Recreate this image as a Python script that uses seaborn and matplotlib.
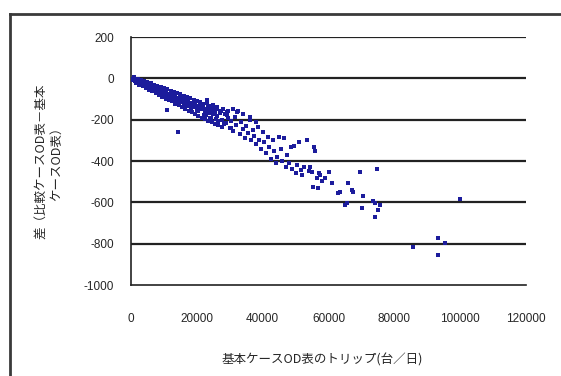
import pandas as pd
import matplotlib
matplotlib.use("Agg")
import matplotlib.pyplot as plt
import seaborn as sns


# points: base-case trips (x) and difference (y)
trips = [
    300, 600, 900, 1200, 1500, 1800, 2100, 2500, 2800, 3200, 3500, 3900, 4200, 4600,
    5000, 5300, 5700, 6100, 6400, 6800, 7200, 7600, 8000, 8300, 8700, 9100, 9500, 9900,
    10300, 10700, 11100, 11500, 11900, 12300, 12700, 13100, 13500, 13900, 14300, 14700,
    15100, 15600, 16000, 16500, 17000, 17500, 18000, 18500, 19000, 19500, 20000, 20600,
    21200, 21800, 22400, 23000, 23600, 24200, 24800, 25500, 26200, 27000,
    1000, 2000, 3000, 4000, 5000, 6000, 7000, 8000, 9000, 10000, 11000, 12000, 13000,
    14000, 15000, 16000, 17000, 18000, 19000, 20000, 21000, 22000, 23000, 24000, 25000,
    26000, 28000, 29500,
    1500, 2500, 3500, 4500, 5500, 6500, 7500, 8500, 9500, 10500, 11500, 12500, 13500,
    14500, 15500, 16500, 17500, 18500, 19500, 20500, 21500, 22500, 23500, 24500, 25500,
    26500, 27500,
    700, 1300, 2300, 3300, 4300, 5200, 6200, 7300, 8200, 9300, 10200, 11300, 12200,
    13300, 14200, 15300, 16200, 17300, 18200, 19300, 20300, 21300, 22300, 23300, 24300,
    25300, 26300, 27300, 28300, 29300, 30300,
    1100, 2700, 4100, 5600, 6900, 8400, 9800, 11200, 12800, 14100, 15800, 17100, 18700,
    19900, 21600, 22900, 24600, 25900,
    27500, 28500, 29000, 29500, 30000, 30500, 31000, 31500, 32000, 32500, 33000, 33500,
    34000, 34500, 35000, 35500, 36000, 36500, 37000, 37500, 38000, 38500, 39000, 39500,
    40000, 40500, 41000, 41500, 42000, 42500, 43000, 43500, 44000, 44500, 45000, 45500,
    46000, 46500, 47000, 47500, 48000, 48500, 49000, 49500, 50000, 50500, 51000, 51500,
    52000, 52500, 53500, 54000, 54500, 55000, 55500, 56000, 56500, 57000, 57500, 58000,
    59000, 60000, 61000, 55300, 56800, 23000, 26000, 24000, 14300, 10900, 29200, 32200,
    34000, 36000, 38000, 31000,
    62900, 63500, 65900, 67400, 69600, 74800, 70500, 65600, 70200, 74100, 75000, 74100,
    73500, 75500, 100000, 85700, 93300, 95400, 93300, 65000, 67100,
]
diff = [
    -5, -2, -10, -6, -14, -9, -18, -12, -22, -17, -28, -20, -33, -25,
    -40, -31, -45, -38, -50, -42, -57, -48, -62, -55, -70, -58, -73, -66,
    -80, -70, -86, -78, -92, -82, -97, -88, -104, -93, -110, -99,
    -115, -105, -120, -112, -125, -118, -131, -122, -138, -128, -145, -135,
    -150, -142, -158, -150, -166, -155, -172, -162, -180, -170,
    5, -3, -8, -12, -18, -22, -30, -35, -40, -48, -52, -60, -65,
    -72, -78, -84, -92, -96, -104, -110, -116, -122, -120, -135, -128,
    -140, -150, -160,
    -25, -30, -38, -45, -55, -62, -72, -80, -88, -98, -104, -112, -125,
    -130, -140, -148, -158, -165, -175, -180, -190, -195, -205, -210, -220,
    -228, -235,
    -8, -4, -20, -15, -36, -29, -52, -44, -66, -60, -82, -74, -98,
    -86, -118, -96, -128, -108, -148, -116, -160, -128, -176, -138, -192,
    -146, -206, -160, -222, -176, -238,
    -12, -26, -22, -48, -40, -70, -60, -92, -78, -112, -100, -132, -118,
    -156, -132, -178, -150, -196,
    -200, -175, -215, -190, -240, -205, -255, -185, -225, -160, -270, -210,
    -245, -290, -230, -265, -200, -300, -250, -280, -320, -235, -300, -340,
    -260, -310, -360, -285, -330, -390, -300, -350, -410, -380, -285, -340,
    -400, -290, -430, -370, -410, -330, -440, -325, -460, -420, -310, -445,
    -470, -430, -300, -450, -430, -455, -330, -350, -480, -460, -470, -495,
    -480, -455, -505, -526, -531, -105, -150, -190, -260, -153, -163, -163,
    -175, -185, -210, -150,
    -555, -550, -506, -550, -453, -439, -569, -603, -627, -603, -637, -671,
    -595, -615, -584, -816, -773, -797, -855, -613, -540,
]

x_ticks = [0, 20000, 40000, 60000, 80000, 100000, 120000]
y_ticks = [200, 0, -200, -400, -600, -800, -1000]

df = pd.DataFrame({"trips": trips, "diff": diff})

sns.set_style("white")
plt.rcParams["font.family"] = ["Noto Sans CJK JP", "DejaVu Sans"]

fig = plt.figure(figsize=(5.61, 3.76), dpi=100)

# outer chart frame (cut off at right and bottom edge)
frame = fig.add_axes([10 / 561, -0.05, 1.0, 1.05 - 14 / 376], zorder=0)
frame.set_xticks([])
frame.set_yticks([])
frame.patch.set_alpha(0)
for side in frame.spines:
    frame.spines[side].set_color("#3a3a3a")
    frame.spines[side].set_linewidth(2.0)

ax = fig.add_axes([131 / 561, 1 - 285 / 376, 395 / 561, 248 / 376], zorder=1)

sns.scatterplot(
    data=df, x="trips", y="diff", ax=ax,
    color="#1c1c9c", marker="s", s=9, linewidth=0, zorder=3
)

ax.set_xlim(0, 120000)
ax.set_ylim(-1000, 200)
ax.set_xticks(x_ticks)
ax.set_yticks(y_ticks)
ax.set_xticklabels([str(v) for v in x_ticks], fontsize=8.5, family="Liberation Sans")
ax.set_yticklabels([str(v) for v in y_ticks], fontsize=8.5, family="Liberation Sans")
ax.tick_params(axis="x", direction="in", length=3, width=1, pad=20, color="#222222")
ax.tick_params(axis="y", length=0, pad=12)

for v in y_ticks[:-1]:
    ax.axhline(v, color="#222222", linewidth=1.6, zorder=1)

for side in ["top", "right"]:
    ax.spines[side].set_visible(False)
for side in ["left", "bottom"]:
    ax.spines[side].set_color("#222222")
    ax.spines[side].set_linewidth(1.2)

ax.set_xlabel("")
ax.set_ylabel("")

fig.text(322 / 561, 1 - 360 / 376, "基本ケースOD表のトリップ(台／日)",
         ha="center", va="center", fontsize=9)
fig.text(49 / 561, 1 - 161 / 376, "差（比較ケースOD表－基本\nケースOD表）",
         ha="center", va="center", rotation=90, fontsize=9,
         multialignment="center", linespacing=1.1)

fig.savefig("out.png", dpi=100)
